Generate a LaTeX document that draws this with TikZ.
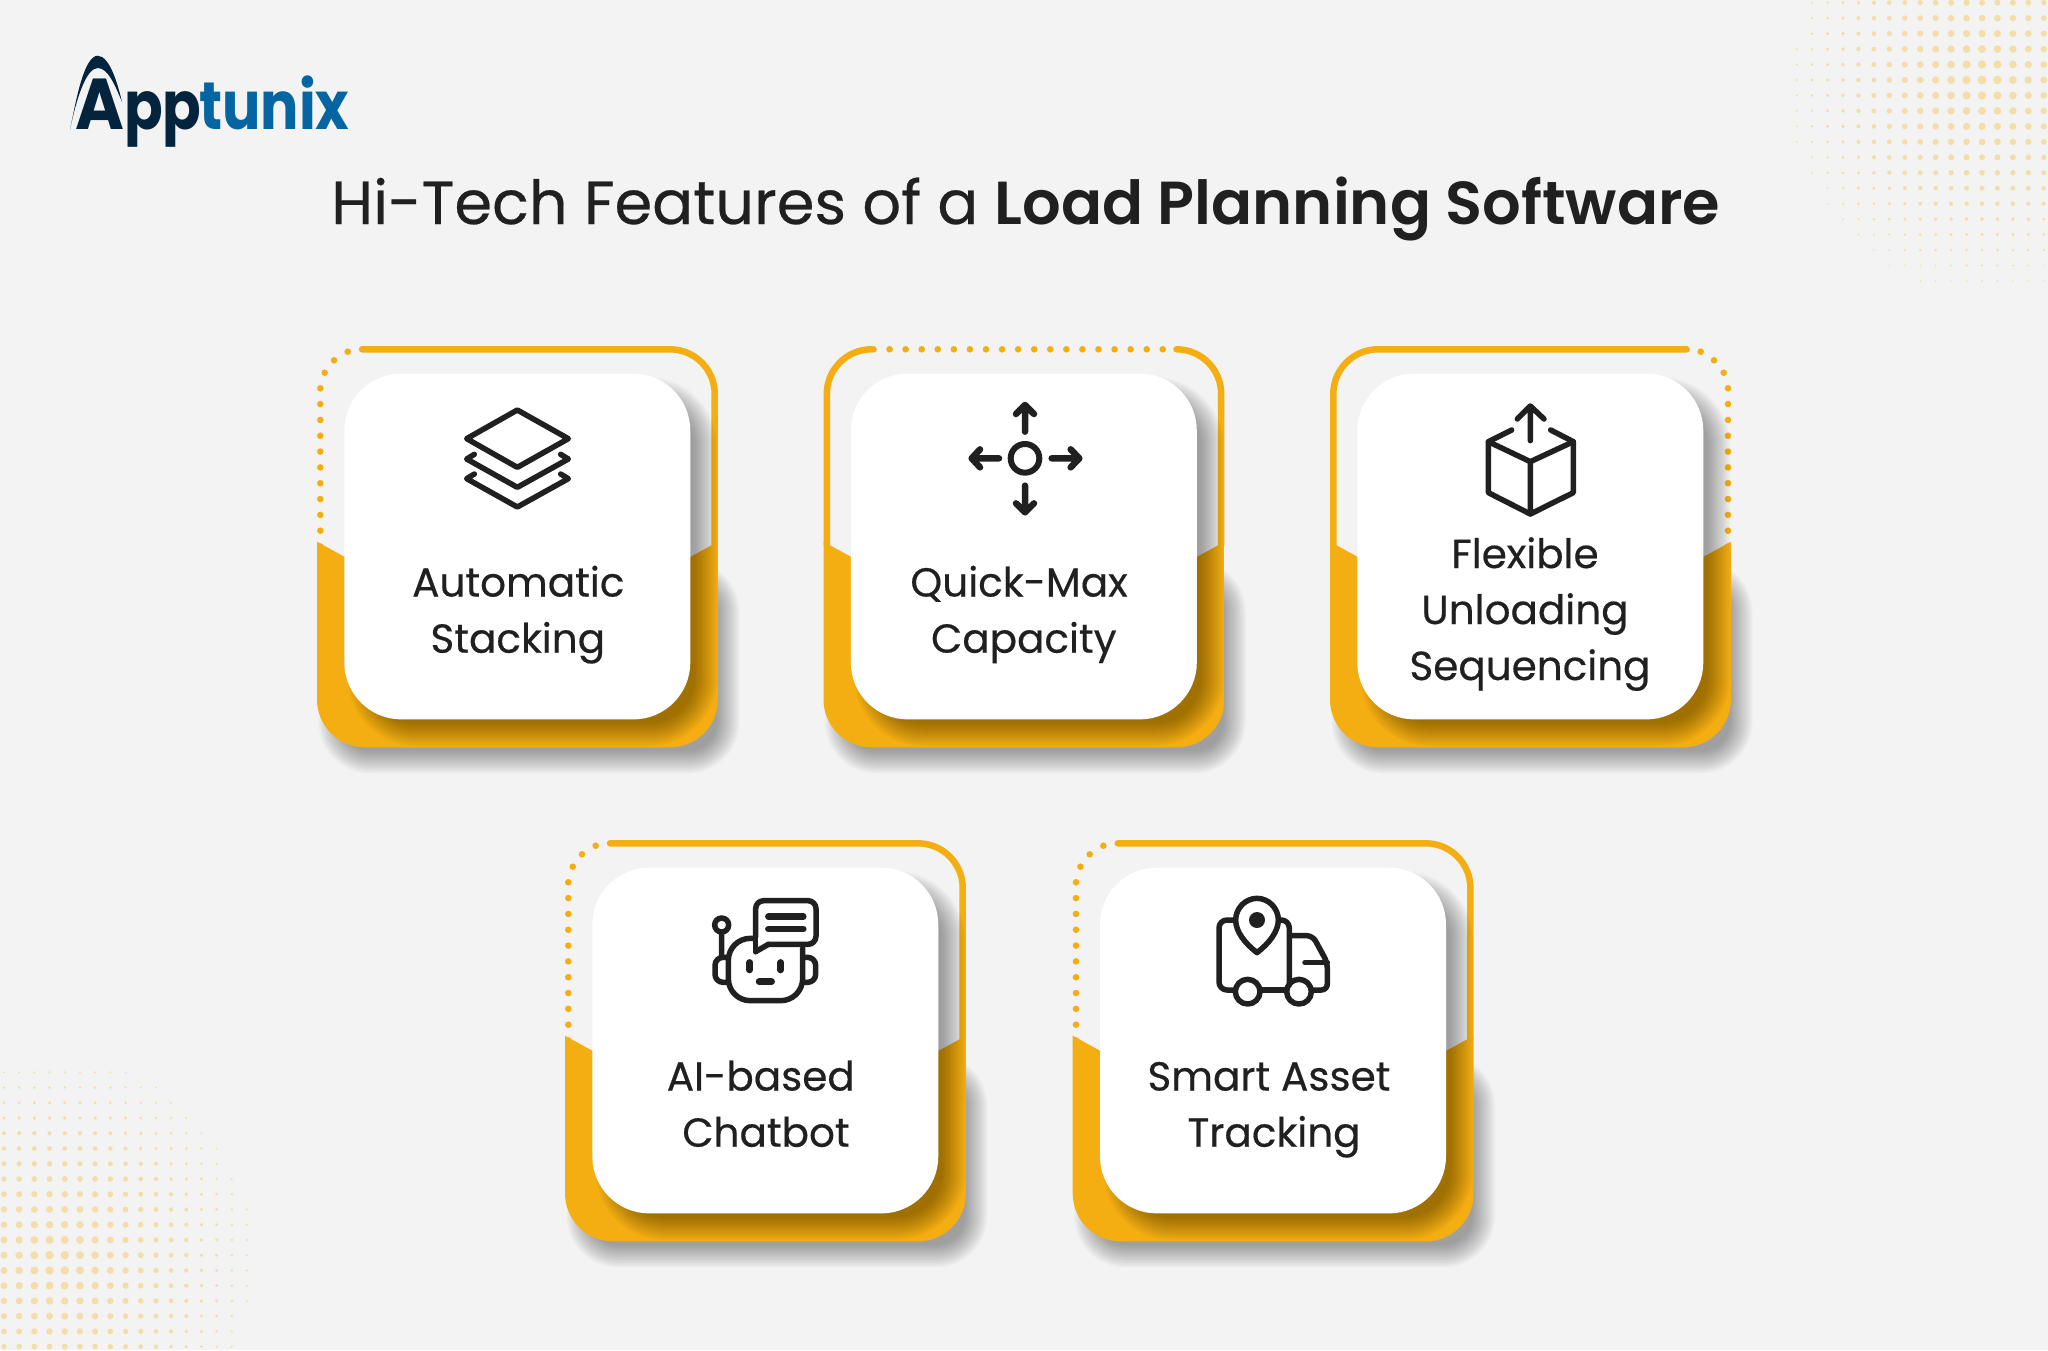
\documentclass[tikz,border=0pt]{standalone}
\usepackage{graphicx}
\usepackage{fontspec}
\setmainfont{Poppins}[FakeBold=0.4]
\newfontfamily\pregular{Poppins}[AutoFakeBold=0.4]
\newfontfamily\psemi{Poppins SemiBold}
\newfontfamily\pbold{Poppins Bold}
\definecolor{bgc}{HTML}{F3F3F3}
\definecolor{ink}{HTML}{202020}
\definecolor{cardyellow}{HTML}{F4AE12}
\definecolor{dotc}{HTML}{F3DEA9}
\definecolor{logodark}{HTML}{04233D}
\definecolor{logoblue}{HTML}{0465A2}
\tikzset{
  shadowlayer/.style={fill=black,fill opacity=.022},
  outlinepart/.style={draw=cardyellow,line width=6.5pt,line cap=round,line join=round},
  gdot/.style={fill=cardyellow},
  cardtext/.style={anchor=base,inner sep=0pt,text=ink,font=\pregular\addfontfeature{FakeBold=0.4}\fontsize{40.5}{40.5}\selectfont},
  zm/.style 2 args={shift={(#1pt,-#2pt)},x=.33333pt,y=-.33333pt},
  icon/.style={draw=ink,line width=5.5pt,line cap=round,line join=round},
}
\newcommand\cardunder[2]{%
  \begin{scope}[shift={(#1pt,-#2pt)},x=1pt,y=-1pt]
    \foreach \d in {-11,-9.5,...,11.5}{%
      \pgfmathsetmacro\rr{40+\d}%
      \fill[shadowlayer,rounded corners=\rr pt] ({13-\d},{226-\d}) rectangle ({411+\d},{416+\d});
    }
    \begin{scope}
      \clip (0,195.7)--(27.3,210.7)--(373.7,210.7)--(401,195.7)--(401,402)--(0,402)--cycle;
      \fill[cardyellow,rounded corners=48pt] (0,0) rectangle (401,401.4);
    \end{scope}
\ignorespaces}
\newcommand\cardover{%
    \foreach \d in {-11,-9.5,...,11.5}{%
      \pgfmathsetmacro\rr{57+\d}%
      \fill[shadowlayer,rounded corners=\rr pt] ({42.3-\d},{43-\d}) rectangle ({388.7+\d},{388.5+\d});
    }
    \fill[white,rounded corners=57pt] (27.3,27.6) rectangle (373.3,373.4);
  \end{scope}
\ignorespaces}
\newcommand\leftdots{%
  \foreach \k in {0,...,10}{\fill[gdot] (3.3,{42.3+15.82*\k}) circle[radius=3.3];}
  \foreach \a/\b in {7.7/26.7,17/14.3,30.7/5.7}{\fill[gdot] (\a,\b) circle[radius=3.3];}
  \draw[outlinepart,rounded corners=44.7pt] (45,3.3)--(397.7,3.3)--(397.7,199);
\ignorespaces}
\begin{document}
\begin{tikzpicture}[x=1pt,y=-1pt]
\useasboundingbox (0,0) rectangle (2048,1350);
\fill[bgc] (0,0) rectangle (2048,1350);
% halftone top right
\foreach \j/\s in {0/1,1/1,2/1,3/0,4/0,5/0,6/0,7/0,8/0,9/0,10/1,11/1,12/2,13/2,14/3,15/4,16/5,17/6,18/8}{%
  \foreach \i in {\s,...,17}{%
    \pgfmathsetmacro\rr{max(.8,4.5-.28*sqrt((\i-12)^2+(\j-5)^2))}%
    \fill[dotc] ({1796.7+15.44*\i},{2.7+15.46*\j}) circle[radius=\rr pt];
  }
}
% halftone bottom left
\foreach \j/\s in {0/8,1/10,2/11,3/12,4/13,5/14,6/14,7/15,8/15,9/16,10/16,11/16,12/16,13/16,14/16,15/16,16/15,17/15,18/15}{%
  \foreach \i in {0,...,\s}{%
    \pgfmathsetmacro\rr{max(.8,4.4-.26*sqrt((\i-3.5)^2+(\j-12.5)^2))}%
    \fill[dotc] ({4+15.19*\i},{1072.3+15.24*\j}) circle[radius=\rr pt];
  }
}
% logo
\fill[logodark] (70,130) .. controls (76,100) and (84,56) .. (97.7,55.7) .. controls (110,56) and (118,85) .. (122,102) .. controls (115,85) and (108,68) .. (97.7,68) .. controls (86,68) and (76,100) .. (70,130) -- cycle;
\node[anchor=base west,inner sep=0pt,text=logodark,font=\pbold\fontsize{72}{72}\selectfont] (logoa) at (75,129) {\scalebox{.92}[1]{A}};
\node[anchor=base west,inner sep=0pt,text=logodark,font=\pbold\fontsize{67}{67}\selectfont] (logob) at (124,129) {\scalebox{.85}[1]{pp}};
\node[anchor=base west,inner sep=0pt,text=logoblue,font=\pbold\fontsize{67}{67}\selectfont] (logoc) at (199,129) {\scalebox{.85}[1]{tunix}};
% title
\node[anchor=base west,inner sep=0pt,text=ink,font=\pregular\addfontfeature{FakeBold=0.4}\fontsize{60.7}{60.7}\selectfont] (title) at (331,224) {Hi-Tech Features of a {\psemi Load Planning Software}};
% card 1
\cardunder{317}{346}\leftdots\cardover
% card 2
\cardunder{823.5}{346}
  \foreach \k in {0,...,18}{\fill[gdot] ({50+16.07*\k},3.3) circle[radius=3.3];}
  \draw[outlinepart,rounded corners=44.7pt] (47,3.3)--(3.3,3.3)--(3.3,199);
  \draw[outlinepart,rounded corners=44.7pt] (353.3,3.3)--(397.7,3.3)--(397.7,199);
\cardover
% card 3
\cardunder{1330}{346}
  \foreach \k in {0,...,10}{\fill[gdot] (398,{42.3+15.82*\k}) circle[radius=3.3];}
  \foreach \a/\b in {393.7/26.7,384/14.3,370.7/5.7}{\fill[gdot] (\a,\b) circle[radius=3.3];}
  \draw[outlinepart,rounded corners=44.7pt] (356.7,3.3)--(3.3,3.3)--(3.3,199);
\cardover
% card 4, 5
\cardunder{565}{840}\leftdots\cardover
\cardunder{1072.7}{840}\leftdots\cardover
% labels
\node[cardtext] (t1a) at (518.3,596.5) {Automatic};
\node[cardtext] (t1b) at (517.8,652.7) {Stacking};
\node[cardtext] (t2a) at (1019,596.5) {Quick-Max};
\node[cardtext] (t2b) at (1023.8,652.7) {Capacity};
\node[cardtext] (t3a) at (1525,568) {Flexible};
\node[cardtext] (t3b) at (1525,624) {Unloading};
\node[cardtext] (t3c) at (1530,680) {Sequencing};
\node[cardtext] (t4a) at (760.8,1090.5) {AI-based};
\node[cardtext] (t4b) at (766,1146.7) {Chatbot};
\node[cardtext] (t5a) at (1269,1090.5) {Smart Asset};
\node[cardtext] (t5b) at (1274,1146.7) {Tracking};
% icon 1
\begin{scope}[zm={290}{320}]
  \draw[icon] (682,270)--(835,356)--(682,442)--(530,356)--cycle;
  \draw[icon] (553,403)--(530,417)--(682,502)--(835,417)--(812,403);
  \draw[icon] (553,462)--(530,476)--(682,561)--(835,476)--(812,462);
\end{scope}
% icon 2
\begin{scope}[zm={800}{320}]
  \draw[icon,line width=6pt] (675,415) circle[radius=43];
  \draw[icon,line width=6.5pt] (675,335)--(675,255) (648,282)--(675,255)--(702,282);
  \draw[icon,line width=6.5pt] (597,415)--(515,415) (540,388)--(515,415)--(540,442);
  \draw[icon,line width=6.5pt] (755,415)--(838,415) (812,388)--(838,415)--(812,442);
  \draw[icon,line width=6.5pt] (675,497)--(675,577) (648,550)--(675,577)--(702,550);
\end{scope}
% icon 3
\begin{scope}[zm={1310}{320}]
  \draw[icon] (605,330)--(535,365)--(535,518)--(661,582)--(790,518)--(790,365)--(722,330);
  \draw[icon] (535,365)--(661,425)--(790,365) (661,425)--(661,582);
  \draw[icon] (661,362)--(661,258) (622,297)--(661,258)--(702,297);
\end{scope}
% icon 4
\begin{scope}[zm={680}{870}]
  \draw[icon,rounded corners=22pt] (225,205)--(145,205)--(145,392)--(368,392)--(368,235);
  \draw[icon] (227,245)--(265,223);
  \draw[icon,rounded corners=8pt] (265,223)--(408,223)--(408,92)--(227,92)--(227,200);
  \draw[icon] (227,190)--(227,245);
  \draw[icon,line width=6.5pt] (265,140)--(370,140) (265,177)--(370,177);
  \draw[icon,line width=6.5pt] (209,277)--(209,300) (302,277)--(302,300) (237,335)--(275,335);
  \draw[icon,rounded corners=8pt] (138,262)--(105,262)--(105,337)--(138,337);
  \draw[icon,rounded corners=8pt] (375,262)--(407,262)--(407,337)--(375,337);
  \draw[icon] (125,165) circle[radius=21] (125,187)--(125,262);
\end{scope}
% icon 5
\begin{scope}[zm={1190}{870}]
  \draw[icon,rounded corners=8pt] (130,150)--(87,150)--(87,360)--(130,360);
  \draw[icon,rounded corners=8pt] (270,150)--(298,150)--(298,345);
  \draw[icon,rounded corners=6pt] (305,197)--(368,197)--(412,278)--(412,360)--(370,360);
  \draw[icon] (345,278)--(412,278) (215,360)--(288,360);
  \draw[icon] (173,365) circle[radius=37] (327,365) circle[radius=37];
  \draw[icon] (201,248) .. controls (165,220) and (137,185) .. (137,150) .. controls (137,115) and (166,85) .. (201,85) .. controls (236,85) and (265,115) .. (265,150) .. controls (265,185) and (237,220) .. (201,248) -- cycle;
  \fill[ink] (201,150) circle[radius=24];
\end{scope}
\end{tikzpicture}
\end{document}
